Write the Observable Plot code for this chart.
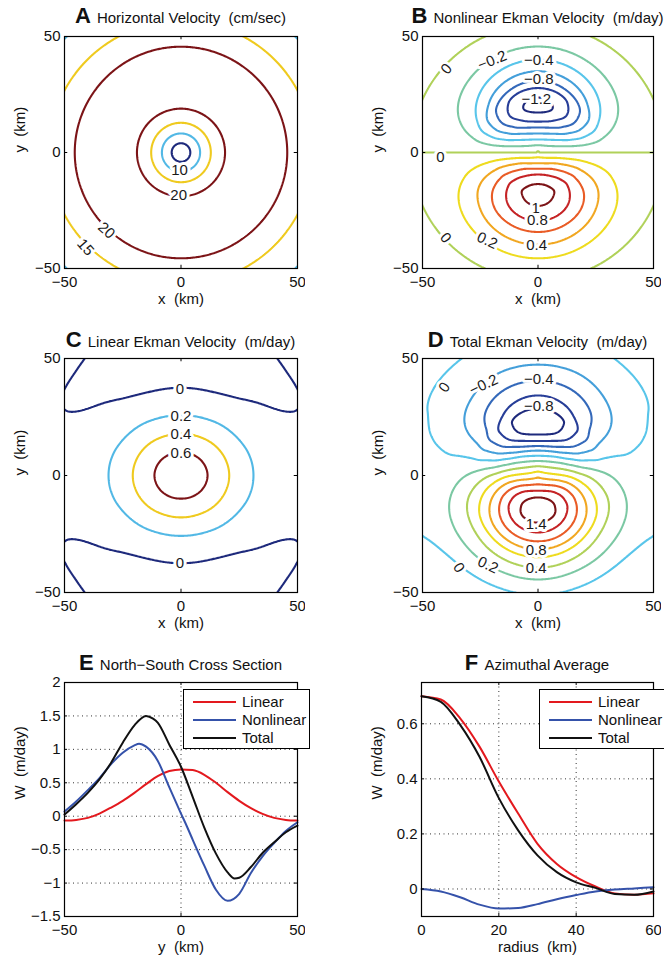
<!DOCTYPE html>
<html><head><meta charset="utf-8">
<script src="https://cdn.jsdelivr.net/npm/d3@7"></script>
<script src="https://cdn.jsdelivr.net/npm/@observablehq/plot@0.6"></script>
<style>
html,body{margin:0;padding:0;overflow:hidden;background:#fff;}
#page{position:relative;width:664px;height:958px;font-family:"Liberation Sans",Arial,Helvetica,sans-serif;color:#111;}
.title{position:absolute;text-align:center;white-space:pre;line-height:24px;height:24px;font-size:22px;}
.title b{font-size:22px;font-weight:bold;}
.title span{font-size:15px;}
.legend{position:absolute;border:1px solid #000;background:#fff;box-sizing:border-box;height:60px;font-size:15px;}
.legend .ln{position:absolute;left:9px;width:43px;height:2px;}
.legend .tx{position:absolute;left:58px;white-space:nowrap;line-height:18px;}
</style></head>
<body><div id="page"></div>
<script>
// ================= DATA =================
// Panel A: horizontal velocity (cm/s) vs radius (km), read from contour radii
const speedR = [0, 4, 8.2, 12.8, 18.9, 31, 45.6, 56.7, 70, 90];
const speedV = [0, 5, 10, 15, 20, 24, 20, 15, 10, 5];
const levelsA = [5, 10, 15, 20];

// Panel C: linear Ekman velocity (m/day) profiles along rays at 0°, 22.5°, 45°, 67.5°, 90°
const linR0  = [0, 11.4, 20.7, 31.1, 40, 50, 60, 72, 90];
const linW0  = [0.7, 0.6, 0.4, 0.2, 0.1, 0.06, 0.04, 0.04, 0.04];
const linR22 = [0, 11.1, 20.2, 30.1, 40, 50, 57, 65, 75, 90];
const linW22 = [0.7, 0.6, 0.4, 0.2, 0.08, 0.03, 0.013, 0.008, 0.002, -0.005];
const linR45 = [0, 10.6, 19.2, 28.1, 36, 44.5, 54, 63.5, 72, 90];
const linW45 = [0.7, 0.6, 0.4, 0.2, 0.05, 0, -0.035, 0, 0.035, 0.045];
const linR67 = [0, 10.1, 18.2, 26.4, 38.4, 50, 60, 72, 90];
const linW67 = [0.7, 0.6, 0.4, 0.2, 0, -0.05, -0.035, -0.015, -0.01];
const linR90 = [0, 9.9, 17.9, 25.8, 37.5, 50, 60, 72, 90];
const linW90 = [0.7, 0.6, 0.4, 0.2, 0, -0.05, -0.05, -0.03, -0.03];
const levelsC = [0, 0.2, 0.4, 0.6];

// Panel E: north-south cross section (y km, W m/day)
const eLinY = [-50, -45, -40, -35, -30, -25, -20, -15, -10, -5, 0, 5, 10, 15, 20, 25, 30, 35, 40, 45, 50];
const eLinW = [-0.065, -0.055, -0.025, 0.04, 0.13, 0.23, 0.35, 0.48, 0.6, 0.675, 0.70, 0.69, 0.62, 0.5, 0.36, 0.23, 0.12, 0.035, -0.025, -0.055, -0.065];
const eNonY = [-50, -45, -40, -35, -30, -25, -20, -18, -15, -10, -5, 0, 2.5, 5, 10, 15, 20, 25, 30, 35, 40, 45, 50];
const eNonW = [0.07, 0.22, 0.39, 0.57, 0.78, 0.95, 1.06, 1.085, 1.04, 0.83, 0.43, 0.04, -0.15, -0.35, -0.74, -1.1, -1.265, -1.16, -0.85, -0.6, -0.4, -0.22, -0.09];
const eTotY = [-50, -45, -40, -35, -30, -25, -20, -15, -12, -10, -5, 0, 5, 10, 15, 20, 23, 25, 30, 35, 40, 45, 50];
const eTotW = [0.025, 0.18, 0.35, 0.55, 0.80, 1.10, 1.36, 1.50, 1.46, 1.40, 1.07, 0.74, 0.29, -0.17, -0.56, -0.84, -0.93, -0.92, -0.76, -0.55, -0.39, -0.24, -0.14];
// nonlinear section beyond the panel edge (from the zero contours in panel B corners)
const nlOuterSY = [-90, -72, -62, -55];
const nlOuterSW = [-0.06, -0.06, -0.04, 0];
const nlOuterNY = [55, 62, 72, 90];
const nlOuterNW = [0, 0.04, 0.06, 0.06];
const levelsB = [-1.2, -1, -0.8, -0.6, -0.4, -0.2, 0, 0.2, 0.4, 0.6, 0.8, 1];
const levelsD = [-0.8, -0.6, -0.4, -0.2, 0, 0.2, 0.4, 0.6, 0.8, 1, 1.2, 1.4];

// Panel F: azimuthal average (radius km, W m/day)
const fR   = [0, 5, 10, 15, 20, 25, 30, 35, 40, 45, 50, 55, 60];
const fLin = [0.70, 0.688, 0.62, 0.517, 0.39, 0.274, 0.164, 0.091, 0.043, 0.009, -0.016, -0.021, -0.016];
const fNon = [0, -0.009, -0.03, -0.057, -0.071, -0.069, -0.055, -0.037, -0.022, -0.009, -0.002, 0.002, 0.006];
const fTot = [0.70, 0.68, 0.596, 0.48, 0.33, 0.213, 0.122, 0.061, 0.024, 0.004, -0.018, -0.021, -0.009];

const seriesNames = ["Linear", "Nonlinear", "Total"];

// contour labels (data coordinates)
const labelsA = [
  {t: "10", x: -0.6, y: -7.8}, {t: "20", x: -1, y: -18.5},
  {t: "20", x: -32, y: -33.6, r: 42}, {t: "15", x: -41, y: -40.8, r: 48}];
const labelsB = [
  {t: "−0.2", x: -19.8, y: 39.7, r: -22}, {t: "−0.4", x: 0.3, y: 40}, {t: "−0.8", x: 0.3, y: 31.6},
  {t: "−1.2", x: -0.7, y: 22.8}, {t: "1", x: -1, y: -23.8}, {t: "0.8", x: -0.3, y: -29.3},
  {t: "0.4", x: -0.6, y: -39.8}, {t: "0.2", x: -22, y: -37.9, r: 25},
  {t: "0", x: -39.6, y: 36, r: -50}, {t: "0", x: -42.2, y: -2}, {t: "0", x: -40, y: -36.8, r: 50}];
const labelsC = [
  {t: "0", x: -0.5, y: 36.8}, {t: "0.2", x: 0, y: 25.3}, {t: "0.4", x: 0, y: 17.5},
  {t: "0.6", x: 0, y: 9.7}, {t: "0", x: -0.5, y: -37.5}];
const labelsD = [
  {t: "0", x: -40.5, y: 37.7, r: -55}, {t: "−0.2", x: -23.5, y: 38.7, r: -25},
  {t: "−0.4", x: 0.3, y: 41}, {t: "−0.8", x: 0.3, y: 29.5}, {t: "1.4", x: -0.8, y: -20.6},
  {t: "0.8", x: -0.8, y: -31.8}, {t: "0.4", x: -0.8, y: -39.4},
  {t: "0.2", x: -21.7, y: -38.3, r: 25}, {t: "0", x: -34.3, y: -39.4, r: 55}];

// ================= FIELDS =================
// smooth monotone piecewise-cubic through the read values
function monotone(xs, ys) {
  const n = xs.length, d = [], m = new Array(n);
  for (let i = 0; i < n - 1; i++) d.push((ys[i + 1] - ys[i]) / (xs[i + 1] - xs[i]));
  m[0] = d[0]; m[n - 1] = d[n - 2];
  for (let i = 1; i < n - 1; i++) {
    if (d[i - 1] * d[i] <= 0) { m[i] = 0; continue; }
    const h0 = xs[i] - xs[i - 1], h1 = xs[i + 1] - xs[i];
    const w1 = 2 * h1 + h0, w2 = h1 + 2 * h0;
    m[i] = (w1 + w2) / (w1 / d[i - 1] + w2 / d[i]);
  }
  return x => {
    if (x <= xs[0]) return ys[0];
    if (x >= xs[n - 1]) return ys[n - 1];
    const i = Math.min(n - 2, d3.bisectRight(xs, x) - 1);
    const h = xs[i + 1] - xs[i], t = (x - xs[i]) / h, t2 = t * t, t3 = t2 * t;
    return (2 * t3 - 3 * t2 + 1) * ys[i] + (t3 - 2 * t2 + t) * h * m[i]
         + (-2 * t3 + 3 * t2) * ys[i + 1] + (t3 - t2) * h * m[i + 1];
  };
}
const speedA = monotone(speedR, speedV);
const fieldA = (x, y) => speedA(Math.hypot(x, y));

const rays = [monotone(linR0, linW0), monotone(linR22, linW22), monotone(linR45, linW45),
              monotone(linR67, linW67), monotone(linR90, linW90)];
function fieldC(x, y) {
  const r = Math.hypot(x, y);
  const th = Math.atan2(Math.abs(y), Math.abs(x)) / (Math.PI / 8); // 0..4
  const v = rays.map(f => f(r));
  const ext = [v[1], ...v, v[3]]; // mirror symmetry
  const k = Math.min(3, Math.floor(th)), u = th - k;
  const p0 = ext[k], p1 = ext[k + 1], p2 = ext[k + 2], p3 = ext[k + 3];
  return 0.5 * (2 * p1 + (-p0 + p2) * u + (2 * p0 - 5 * p1 + 4 * p2 - p3) * u * u
              + (-p0 + 3 * p1 - 3 * p2 + p3) * u * u * u);
}
const nlProfile = monotone([...nlOuterSY, ...eNonY, ...nlOuterNY], [...nlOuterSW, ...eNonW, ...nlOuterNW]);
function fieldB(x, y) {
  const r = Math.hypot(x, y);
  if (r === 0) return 0;
  return (Math.abs(y) / r) * nlProfile(y >= 0 ? r : -r);
}
const fieldD = (x, y) => fieldB(x, y) + fieldC(x, y);

// ================= STYLE =================
const jetMuted = d3.scaleLinear()
  .domain([0, .125, .25, .375, .5, .625, .75, .875, 1])
  .range(["#1e2a7c", "#2a45a2", "#3f95d6", "#5bcaec", "#8dc77a", "#eee21e", "#f29a22", "#e1282a", "#7c1417"]);
const FONT = '"Liberation Sans", Arial, Helvetica, sans-serif';
const M = {l: 64, t: 8, r: 8, b: 42};
const page = document.getElementById("page");
function place(node, left, top) {
  node.style.position = "absolute"; node.style.left = left + "px"; node.style.top = top + "px";
  page.appendChild(node);
}
function inwardTicks(xt, yt, xd, yd, lx, ly) {
  return [
    Plot.ruleX(xt, {x: d => d, y1: yd[0], y2: yd[0] + ly, stroke: "#000"}),
    Plot.ruleX(xt, {x: d => d, y1: yd[1] - ly, y2: yd[1], stroke: "#000"}),
    Plot.ruleY(yt, {y: d => d, x1: xd[0], x2: xd[0] + lx, stroke: "#000"}),
    Plot.ruleY(yt, {y: d => d, x1: xd[1] - lx, x2: xd[1], stroke: "#000"})
  ];
}
const fmt = d => String(d).replace("-", "\u2212");
function axes(xt, yt, xLabel, yLabel, xdy, ydx) {
  return [
    Plot.axisX({ticks: xt, tickSize: 0, tickPadding: 8, label: null, tickFormat: fmt, fontSize: 15}),
    Plot.axisY({ticks: yt, tickSize: 0, tickPadding: 4, label: null, tickFormat: fmt, fontSize: 15}),
    Plot.text([xLabel], {frameAnchor: "bottom", dy: xdy, text: d => d, fontSize: 15, fill: "#111"}),
    Plot.text([yLabel], {frameAnchor: "left", dx: ydx, rotate: -90, text: d => d, fontSize: 15, fill: "#111"})
  ];
}
function title(letter, text, fx, fw, baseline) {
  const d = document.createElement("div");
  d.className = "title";
  d.style.left = (fx - 60) + "px"; d.style.width = (fw + 120) + "px"; d.style.top = (baseline - 19.8) + "px";
  d.innerHTML = `<b>${letter}</b> <span>${text}</span>`;
  page.appendChild(d);
}

function contourPanel(fx, fy, fw, fh, field, levels, labels) {
  const chart = Plot.plot({
    width: M.l + fw + M.r, height: M.t + fh + M.b,
    marginLeft: M.l, marginRight: M.r, marginTop: M.t, marginBottom: M.b,
    style: {fontFamily: FONT, fontSize: "15px", color: "#111", background: "transparent"},
    x: {domain: [-50, 50]}, y: {domain: [-50, 50]},
    color: {type: "linear", domain: [levels[0], levels[levels.length - 1]], interpolate: t => jetMuted(t)},
    marks: [
      Plot.contour({value: field, x1: -64, x2: 64, y1: -64, y2: 64, thresholds: levels,
        stroke: "value", fill: "none", strokeWidth: 2.1, clip: true, pixelSize: 1}),
      Plot.text(labels, {x: "x", y: "y", text: "t", rotate: d => d.r || 0, fontSize: 15,
        fill: "#1a1a1a", stroke: "white", strokeWidth: 6, paintOrder: "stroke"}),
      Plot.frame({stroke: "#000", strokeWidth: 1.2}),
      ...inwardTicks([0], [0], [-50, 50], [-50, 50], 1.4, 1.4),
      ...axes([-50, 0, 50], [-50, 0, 50], "x\u00a0\u00a0(km)", "y\u00a0\u00a0(km)", 35, -44)
    ]
  });
  place(chart, fx - M.l, fy - M.t);
}

const colors = {Linear: "#e3191e", Nonlinear: "#3552aa", Total: "#111111"};
function linePanel(fx, fy, fw, fh, xd, yd, xt, yt, gx, gy, series, xLabel, yLabel, tl) {
  const chart = Plot.plot({
    width: M.l + fw + M.r, height: M.t + fh + M.b,
    marginLeft: M.l, marginRight: M.r, marginTop: M.t, marginBottom: M.b,
    style: {fontFamily: FONT, fontSize: "15px", color: "#111", background: "transparent"},
    x: {domain: xd}, y: {domain: yd},
    marks: [
      Plot.ruleY(gy, {stroke: "#333", strokeDasharray: "1,3.5", strokeWidth: 1}),
      Plot.ruleX(gx, {stroke: "#333", strokeDasharray: "1,3.5", strokeWidth: 1}),
      ...series.map(s => Plot.line(s.xs.map((x, i) => ({x, y: s.ys[i]})),
        {x: "x", y: "y", stroke: colors[s.name], strokeWidth: 2, curve: "monotone-x"})),
      Plot.frame({stroke: "#000", strokeWidth: 1.2}),
      ...inwardTicks(xt, yt, xd, yd, tl[0], tl[1]),
      ...axes(xt, yt, xLabel, yLabel, 35, -44)
    ]
  });
  place(chart, fx - M.l, fy - M.t);
}
function legend(left, top, width) {
  const d = document.createElement("div");
  d.className = "legend";
  d.style.left = left + "px"; d.style.top = top + "px"; d.style.width = width + "px";
  d.innerHTML = seriesNames.map((n, i) => {
    const cy = 12 + i * 18;
    return `<div class="ln" style="top:${cy - 1}px;background:${colors[n]}"></div>` +
           `<div class="tx" style="top:${cy - 9}px">${n}</div>`;
  }).join("");
  page.appendChild(d);
}

// ================= PANELS =================
contourPanel(64, 36, 233, 232, fieldA, levelsA, labelsA);
contourPanel(422, 36, 231, 232, fieldB, levelsB, labelsB);
contourPanel(64, 358, 233, 234, fieldC, levelsC, labelsC);
contourPanel(422, 358, 231, 234, fieldD, levelsD, labelsD);

linePanel(64, 682, 233, 234, [-50, 50], [-1.5, 2], [-50, 0, 50], [-1.5, -1, -0.5, 0, 0.5, 1, 1.5, 2],
  [0], [-1, -0.5, 0, 0.5, 1, 1.5],
  [{name: "Linear", xs: eLinY, ys: eLinW}, {name: "Nonlinear", xs: eNonY, ys: eNonW}, {name: "Total", xs: eTotY, ys: eTotW}],
  "y\u00a0\u00a0(km)", "W\u00a0\u00a0(m/day)", [1.3, 0.045]);
linePanel(421, 682, 232, 234, [0, 60], [-0.1, 0.75], [0, 20, 40, 60], [0, 0.2, 0.4, 0.6],
  [20, 40], [0, 0.2, 0.4, 0.6],
  [{name: "Linear", xs: fR, ys: fLin}, {name: "Nonlinear", xs: fR, ys: fNon}, {name: "Total", xs: fR, ys: fTot}],
  "radius\u00a0\u00a0(km)", "W\u00a0\u00a0(m/day)", [0.8, 0.011]);

title("A", "Horizontal Velocity  (cm/sec)", 64, 233, 24);
title("B", "Nonlinear Ekman Velocity  (m/day)", 422, 231, 24);
title("C", "Linear Ekman Velocity  (m/day)", 64, 233, 348);
title("D", "Total Ekman Velocity  (m/day)", 422, 231, 348);
title("E", "North\u2212South Cross Section", 64, 233, 671);
title("F", "Azimuthal Average", 421, 232, 671);

legend(183, 689, 127);
legend(539, 689, 127);
</script>
</body></html>
